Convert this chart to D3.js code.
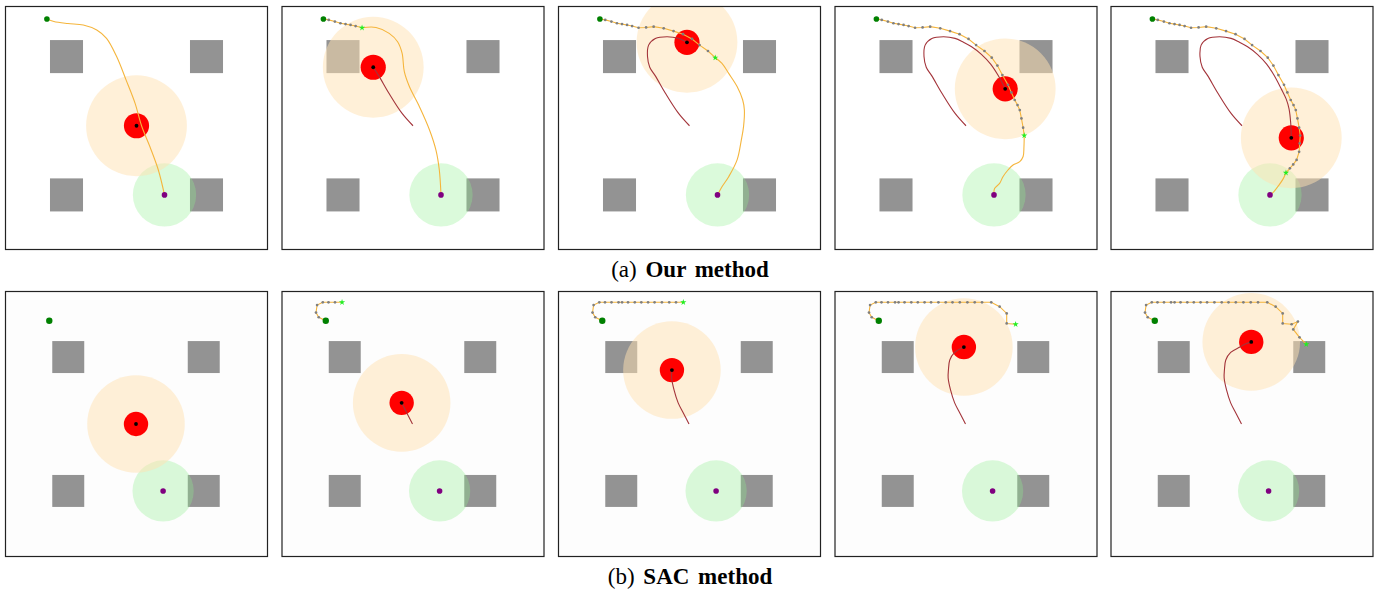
<!DOCTYPE html>
<html><head><meta charset="utf-8">
<script src="https://cdn.jsdelivr.net/npm/d3@7/dist/d3.min.js"></script>
<style>body{margin:0;background:#fff}svg{display:block}</style>
</head><body>
<svg id="c" width="1380" height="591"></svg>
<script>
// ---------- data (world units) ----------
const captionLabels = ["(a)", "(b)"];
const methodNames = ["Our method", "SAC method"];
const startPos = [-3.2, 3.81];
const goalPos = [1.0, -2.47];
const obstacleCenters = [[-2.5, 2.47], [2.5, 2.47], [-2.5, -2.47], [2.5, -2.47]];
const obstacleSide = 1.18;
const goalRadius = 1.13;
const pursuerRadius = 0.45;
const captureRadius = 1.8;

// Our method: executed evader trajectory (shared), index of current step per snapshot
const oursExecuted = [
  [-3.20, 3.81], [-3.01, 3.78], [-2.79, 3.72], [-2.59, 3.66], [-2.41, 3.63], [-2.23, 3.60],
  [-2.05, 3.56], [-1.82, 3.50], [-1.55, 3.51], [-1.28, 3.54], [-0.92, 3.48], [-0.57, 3.38],
  [-0.23, 3.27], [0.09, 3.10], [0.36, 2.88], [0.66, 2.67], [0.92, 2.43], [1.12, 2.15],
  [1.30, 1.81], [1.50, 1.46], [1.62, 1.19], [1.74, 0.92], [1.84, 0.74], [1.92, 0.56],
  [1.98, 0.26], [2.04, -0.07], [2.08, -0.35], [2.06, -0.63], [2.04, -0.93], [1.95, -1.22],
  [1.83, -1.38], [1.71, -1.52], [1.57, -1.68]
];
const oursExecutedEnd = [0, 7, 16, 26, 32];
const oursPursuer = [
  [0, 0], [-0.39, 0.44], [-0.86, 1.16], [-1.22, 1.78], [-1.42, 2.09], [-1.50, 2.47],
  [-1.46, 2.88], [-1.22, 3.12], [-0.80, 3.18], [-0.39, 3.12], [-0.09, 2.98], [0.20, 2.82],
  [0.55, 2.55], [0.88, 2.20], [1.14, 1.81], [1.40, 1.32], [1.58, 0.95], [1.68, 0.60],
  [1.74, 0.09], [1.76, -0.43]
];
const oursPursuerEnd = [0, 4, 10, 15, 19];
const oursPlanned1 = [[-3.20, 3.81], [-2.95, 3.72], [-2.45, 3.65], [-1.90, 3.60], [-1.42, 3.42],
  [-1.07, 3.12], [-0.71, 2.47], [-0.37, 1.63], [-0.05, 0.80], [0.18, 0.0], [0.48, -0.75],
  [0.78, -1.58], [1.0, -2.47]];
const oursPlanned2 = [[-1.82, 3.50], [-1.32, 3.51], [-0.85, 3.30], [-0.55, 3.00], [-0.39, 2.59],
  [-0.31, 1.93], [-0.13, 1.40], [0.23, 0.68], [0.59, -0.15], [0.82, -0.87], [0.94, -1.58], [1.0, -2.47]];
const oursPlanned3 = [[0.92, 2.43], [1.16, 2.23], [1.40, 1.87], [1.70, 1.40], [1.90, 0.92],
  [1.96, 0.56], [1.93, -0.03], [1.85, -0.51], [1.70, -1.22], [1.40, -1.82], [1.16, -2.18], [1.0, -2.47]];
const oursPlanned4 = [[2.08, -0.35], [2.07, -0.75], [2.04, -1.10], [1.92, -1.28], [1.68, -1.40],
  [1.50, -1.58], [1.32, -1.82], [1.20, -2.06], [1.02, -2.24], [1.0, -2.47]];
const oursPlanned5 = [[1.57, -1.68], [1.48, -1.88], [1.32, -2.12], [1.14, -2.35], [1.0, -2.47]];
const oursPlanned = [oursPlanned1, oursPlanned2, oursPlanned3, oursPlanned4, oursPlanned5];

// SAC method
const sacExecuted = [
  [-3.20, 3.81], [-3.46, 3.94], [-3.56, 4.11], [-3.52, 4.39], [-3.31, 4.49], [-3.10, 4.49],
  [-2.86, 4.49], [-2.60, 4.49], [-2.47, 4.49], [-2.25, 4.49], [-2.00, 4.49], [-1.76, 4.49],
  [-1.51, 4.49], [-1.27, 4.49], [-1.00, 4.49], [-0.73, 4.49], [-0.48, 4.49], [-0.21, 4.49],
  [0.07, 4.49], [0.34, 4.49], [0.61, 4.49], [0.95, 4.49], [1.26, 4.33], [1.52, 4.08],
  [1.52, 3.71], [1.85, 3.68], [2.08, 3.78], [1.91, 3.49], [2.14, 3.20], [2.39, 2.94]
];
const sacExecutedEnd = [0, 7, 17, 25, 29];
const sacPursuer = [
  [0, 0], [-0.20, 0.39], [-0.40, 0.78], [-0.55, 1.25], [-0.64, 1.70], [-0.63, 1.99],
  [-0.58, 2.36], [-0.40, 2.64], [-0.06, 2.84], [0.14, 2.95], [0.36, 3.03]
];
const sacPursuerEnd = [0, 2, 5, 8, 10];

// ---------- layout ----------
const svg = d3.select("#c");
const panelW = 263;
const panelXs = [5, 281.5, 558, 834.5, 1110.5];
const rows = [
  {top: 6, h: 244, k: 28, cx: 131.5, cy: 119.75, bg: "#ffffff", capY: 277,
   executed: oursExecuted, exEnd: oursExecutedEnd, pursuer: oursPursuer, pEnd: oursPursuerEnd, planned: oursPlanned},
  {top: 291, h: 266, k: 27.1, cx: 131, cy: 133, bg: "#fdfdfd", capY: 584,
   executed: sacExecuted, exEnd: sacExecutedEnd, pursuer: sacPursuer, pEnd: sacPursuerEnd, planned: null}
];

const defs = svg.append("defs");

rows.forEach((row, ri) => {
  const x = d3.scaleLinear().domain([-row.cx / row.k, (panelW - row.cx) / row.k]).range([0, panelW]);
  const y = d3.scaleLinear().domain([row.cy / row.k, (row.cy - row.h) / row.k]).range([0, row.h]);
  const kpx = x(1) - x(0);
  const line = d3.line().x(d => x(d[0])).y(d => y(d[1]));
  const smooth = d3.line().x(d => x(d[0])).y(d => y(d[1])).curve(d3.curveCatmullRom.alpha(0.5));

  panelXs.forEach((px, pi) => {
    const id = `clip-${ri}-${pi}`;
    defs.append("clipPath").attr("id", id).append("rect")
      .attr("width", panelW).attr("height", row.h);
    const g = svg.append("g").attr("transform", `translate(${px},${row.top})`);
    const gc = g.append("g").attr("clip-path", `url(#${id})`);
    gc.append("rect").attr("width", panelW).attr("height", row.h).attr("fill", row.bg);

    // obstacles
    gc.selectAll("rect.obs").data(obstacleCenters).join("rect").attr("class", "obs")
      .attr("x", d => x(d[0] - obstacleSide / 2)).attr("y", d => y(d[1] + obstacleSide / 2))
      .attr("width", obstacleSide * kpx).attr("height", obstacleSide * kpx)
      .attr("fill", "#939393");

    // goal region
    gc.append("circle").attr("cx", x(goalPos[0])).attr("cy", y(goalPos[1]))
      .attr("r", goalRadius * kpx).attr("fill", "rgb(144,238,144)").attr("fill-opacity", 0.32);

    const pur = row.pursuer.slice(0, row.pEnd[pi] + 1);
    const pp = pur[pur.length - 1];
    // capture region
    gc.append("circle").attr("cx", x(pp[0])).attr("cy", y(pp[1]))
      .attr("r", captureRadius * kpx).attr("fill", "rgb(255,226,178)").attr("fill-opacity", 0.5);
    // pursuer body
    gc.append("circle").attr("cx", x(pp[0])).attr("cy", y(pp[1]))
      .attr("r", pursuerRadius * kpx).attr("fill", "#ff0000");
    // pursuer trajectory
    if (pur.length > 1) {
      gc.append("path").attr("d", smooth(pur)).attr("fill", "none")
        .attr("stroke", "#a3343a").attr("stroke-width", 1.1);
    }
    // planned path
    if (row.planned) {
      gc.append("path").attr("d", smooth(row.planned[pi])).attr("fill", "none")
        .attr("stroke", "#f5b53c").attr("stroke-width", 1.1);
    }
    // executed path
    const ex = row.executed.slice(0, row.exEnd[pi] + 1);
    if (ex.length > 1) {
      gc.append("path").attr("d", line(ex)).attr("fill", "none")
        .attr("stroke", "#f5b53c").attr("stroke-width", 1.1);
      gc.selectAll("circle.step").data(ex.slice(1, -1)).join("circle").attr("class", "step")
        .attr("cx", d => x(d[0])).attr("cy", d => y(d[1])).attr("r", 1.35).attr("fill", "#7f7f7f");
    }
    // pursuer center
    gc.append("circle").attr("cx", x(pp[0])).attr("cy", y(pp[1])).attr("r", 1.9).attr("fill", "#000");
    // start
    gc.append("circle").attr("cx", x(startPos[0])).attr("cy", y(startPos[1]))
      .attr("r", ri === 0 ? 2.8 : 3.2).attr("fill", "#008000");
    // current evader position
    if (ex.length > 1) {
      const c = ex[ex.length - 1];
      gc.append("path").attr("d", d3.symbol(d3.symbolStar, 12)())
        .attr("transform", `translate(${x(c[0])},${y(c[1])})`).attr("fill", "#22ee22");
    }
    // goal point
    gc.append("circle").attr("cx", x(goalPos[0])).attr("cy", y(goalPos[1]))
      .attr("r", 2.8).attr("fill", "#800080");

    // border
    g.append("rect").attr("x", 0.5).attr("y", 0.5).attr("width", panelW - 1).attr("height", row.h - 1)
      .attr("fill", "none").attr("stroke", "#222").attr("stroke-width", 1.2);
  });

  const t = svg.append("text").attr("x", 690).attr("y", row.capY).attr("text-anchor", "middle")
    .attr("font-family", "'Liberation Serif','Times New Roman',serif").attr("font-size", 23)
    .attr("fill", "#000");
  t.append("tspan").text(captionLabels[ri] + " ");
  t.append("tspan").attr("font-weight", "bold").attr("dx", 3).text(methodNames[ri].split(" ")[0]);
  t.append("tspan").attr("font-weight", "bold").attr("dx", 3).text(" " + methodNames[ri].split(" ")[1]);
});
</script>
</body></html>
